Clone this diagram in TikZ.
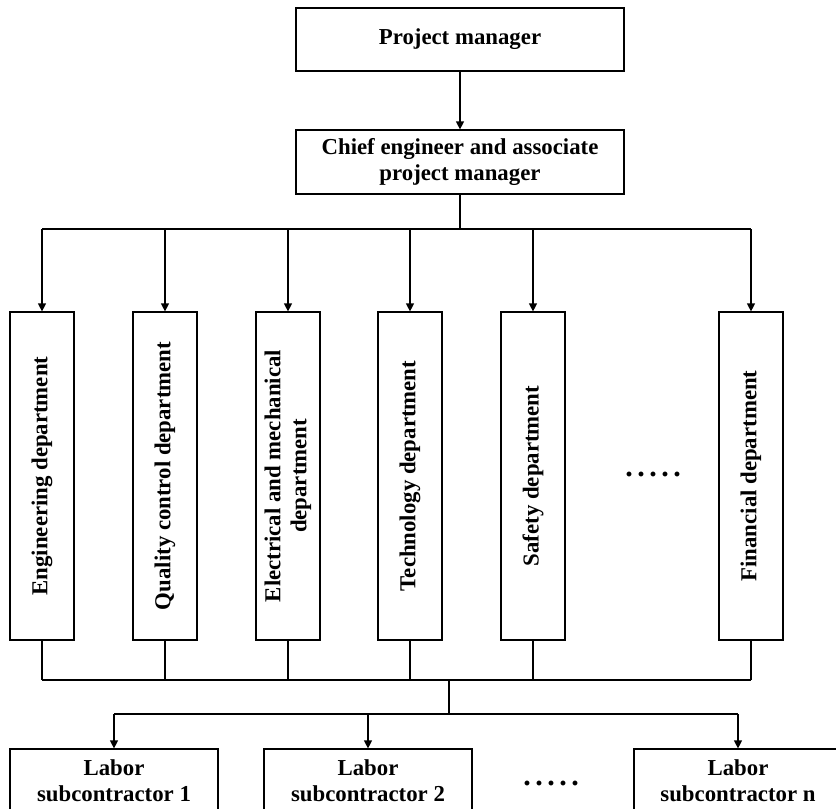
\documentclass[tikz,border=0pt]{standalone}
\usepackage{fontspec}
\setmainfont{Liberation Serif}
\usetikzlibrary{arrows.meta}

\tikzset{every picture/.style={line width=1.2pt}}
\tikzset{
  orgbox/.style={draw, inner sep=0pt, align=center, font=\bfseries\fontsize{22.8}{26}\selectfont},
  orgtext/.style={inner sep=0pt, align=center, font=\bfseries\fontsize{22.8}{26}\selectfont},
  orgdots/.style={inner sep=0pt, anchor=base, font=\bfseries\fontsize{30}{30}\selectfont},
  orglink/.style={-{Triangle[width=8pt,length=8pt]}},
}
\newcommand{\orgellipsis}{.\hspace{4.5pt}.\hspace{4.5pt}.\hspace{4.5pt}.\hspace{4.5pt}.}

\begin{document}
\begin{tikzpicture}[x=1pt,y=1pt,yscale=-1,xscale=1]
\useasboundingbox (0,0) rectangle (836,809);

%Shape: Rectangle [top]
\node [orgbox, minimum width=328pt, minimum height=63pt] (pm) at (460,39.5) {Project manager};
%Shape: Rectangle [second level]
\node [orgbox, minimum width=328pt, minimum height=64pt] (chief) at (460,162) {Chief engineer and associate\\project manager};

%Shape: Rectangle [departments]
\foreach \name/\x in {eng/42, qc/165, elec/288, tech/410, safety/533, fin/751}
  \node [orgbox, minimum width=64pt, minimum height=328pt] (\name) at (\x,476) {};

% Text Node
\node [orgtext, rotate=90] (engtxt) at (eng) {Engineering department};
% Text Node
\node [orgtext, rotate=90] (qctxt) at (qc) {Quality control department};
% Text Node
\node [orgtext, rotate=90] (electxt) at (elec) {Electrical and mechanical\\department};
% Text Node
\node [orgtext, rotate=90] (techtxt) at (tech) {Technology department};
% Text Node
\node [orgtext, rotate=90] (safetytxt) at (safety) {Safety department};
% Text Node
\node [orgtext, rotate=90] (fintxt) at (fin) {Financial department};
% Text Node
\node [orgdots] (deptdots) at (653,476) {\orgellipsis};

%Shape: Rectangle [labor subcontractors]
\node [orgbox, minimum width=208pt, minimum height=64pt] (lab1) at (114,781) {Labor\\subcontractor 1};
\node [orgbox, minimum width=208pt, minimum height=64pt] (lab2) at (368,781) {Labor\\subcontractor 2};
\node [orgbox, minimum width=208pt, minimum height=64pt] (labn) at (738,781) {Labor\\subcontractor n};
% Text Node
\node [orgdots] (labdots) at (551,785) {\orgellipsis};

%Straight Lines
\draw [orglink] (pm.south) -- (chief.north);
\coordinate (split) at (460,229);
\draw (chief.south) -- (split);
\draw (eng.north |- split) -- (fin.north |- split);
\foreach \name in {eng, qc, elec, tech, safety, fin}
  \draw [orglink] (\name.north |- split) -- (\name.north);

%Straight Lines
\coordinate (join) at (449,680);
\coordinate (fork) at (449,714);
\foreach \name in {eng, qc, elec, tech, safety, fin}
  \draw (\name.south) -- (\name.south |- join);
\draw (eng.south |- join) -- (fin.south |- join);
\draw (join) -- (fork);
\draw (lab1.north |- fork) -- (labn.north |- fork);
\foreach \name in {lab1, lab2, labn}
  \draw [orglink] (\name.north |- fork) -- (\name.north);

\end{tikzpicture}
\end{document}
